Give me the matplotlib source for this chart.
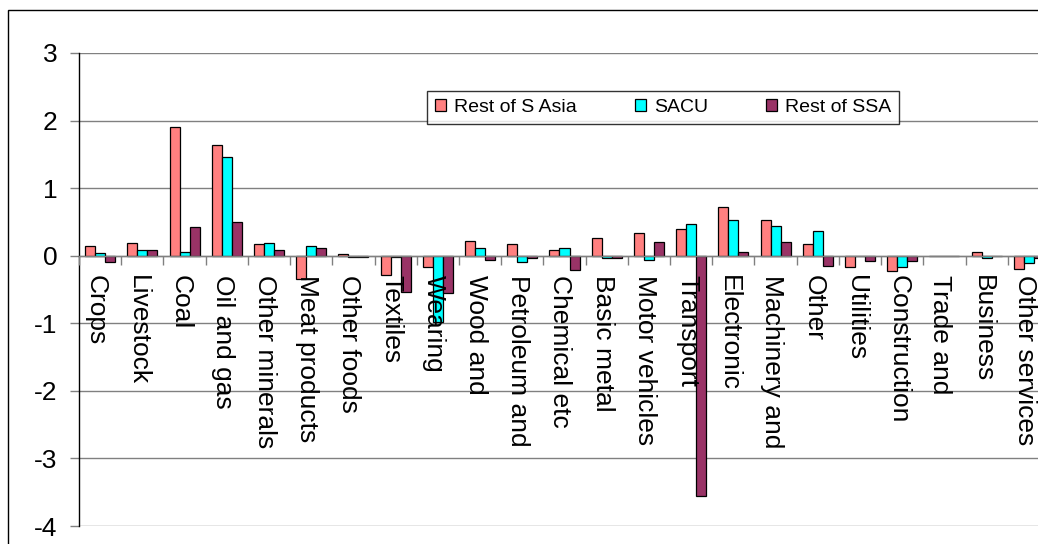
import numpy as np
import matplotlib
matplotlib.use("Agg")
import matplotlib.pyplot as plt
from matplotlib.patches import Rectangle
from matplotlib.transforms import ScaledTranslation

plt.rcParams['font.family'] = ['Liberation Sans', 'DejaVu Sans']

# sectors and the three regional series
sectors = ["Crops", "Livestock", "Coal", "Oil and gas", "Other minerals",
           "Meat products", "Other foods", "Textiles", "Wearing", "Wood and",
           "Petroleum and", "Chemical etc", "Basic metal", "Motor vehicles",
           "Transport", "Electronic", "Machinery and", "Other", "Utilities",
           "Construction", "Trade and", "Business", "Other services"]
rest_s_asia = [0.14, 0.19, 1.90, 1.64, 0.17, -0.34, 0.03, -0.28, -0.17, 0.22,
               0.17, 0.085, 0.26, 0.33, 0.39, 0.72, 0.53, 0.17, -0.17, -0.23,
               -0.01, 0.06, -0.20]
sacu = [0.035, 0.08, 0.05, 1.46, 0.19, 0.14, -0.025, -0.02, -0.98, 0.11,
        -0.09, 0.11, -0.04, -0.06, 0.475, 0.53, 0.445, 0.36, 0.0, -0.17,
        0.0, -0.03, -0.11]
rest_ssa = [-0.09, 0.08, 0.42, 0.50, 0.085, 0.11, -0.025, -0.53, -0.55, -0.06,
            -0.035, -0.21, -0.04, 0.20, -3.55, 0.055, 0.20, -0.145, -0.085,
            -0.085, 0.0, 0.0, -0.03]
series_names = ["Rest of S Asia", "SACU", "Rest of SSA"]
y_ticks = [-4, -3, -2, -1, 0, 1, 2, 3]

colors = ["#FF8080", "#00FFFF", "#993366"]
grey = "#808080"

fig = plt.figure(figsize=(10.38, 5.44), dpi=100, facecolor="white")
ax = fig.add_axes([79 / 1038, 18 / 544, 971 / 1038, 473 / 544])

x = np.arange(len(sectors))
w = 0.237
for k, (vals, name) in enumerate(zip([rest_s_asia, sacu, rest_ssa], series_names)):
    ax.bar(x + (k - 1) * w, vals, width=w, color=colors[k], edgecolor="black",
           linewidth=0.9, label=name, zorder=2)

ax.set_xlim(-0.5, len(sectors) - 0.5)
ax.set_ylim(-4, 3)

# horizontal gridlines sit behind the bars, category labels in front
ax.yaxis.set_zorder(0.5)
ax.xaxis.set_zorder(3)
ax.yaxis.grid(True, color=grey, linewidth=1)
ax.set_yticks(y_ticks)
ax.set_yticklabels([str(v) for v in y_ticks], fontsize=19)
ax.tick_params(axis="y", direction="out", length=6.5, width=1, color=grey, pad=9)

for s in ["top", "right"]:
    ax.spines[s].set_visible(False)
ax.spines["left"].set_color("black")
ax.spines["left"].set_linewidth(1)
ax.spines["bottom"].set_position(("data", 0))
ax.spines["bottom"].set_color(grey)
ax.spines["bottom"].set_linewidth(1)

ax.set_xticks(x)
ax.set_xticklabels(sectors, rotation=-90, va="top", ha="center", fontsize=19)
ax.set_xticks(np.arange(len(sectors) + 1) - 0.5, minor=True)
ax.tick_params(axis="x", which="major", length=0, pad=14)
ax.tick_params(axis="x", which="minor", direction="out", length=6.5, width=1, color=grey)

# nudge rotated labels a little left so the glyphs sit on the category centre
nudge = ScaledTranslation(-4 / 100, 0, fig.dpi_scale_trans)
for lab in ax.get_xticklabels():
    lab.set_transform(lab.get_transform() + nudge)

leg = ax.legend(loc="lower left", bbox_to_anchor=(0.358, 0.85, 0.487, 0.082),
                mode="expand", ncol=3, fontsize=14, frameon=True, fancybox=False,
                handlelength=0.6, handleheight=0.6, handletextpad=0.4,
                columnspacing=2.0, borderpad=0.42, borderaxespad=0)
leg.get_frame().set_edgecolor("black")
leg.get_frame().set_linewidth(1)
leg.set_zorder(4)

# outer chart frame
frame = Rectangle((8 / 1038, -0.2), 1.2, (544 - 10) / 544 + 0.2, transform=fig.transFigure,
                  fill=False, edgecolor="black", linewidth=1, clip_on=False)
fig.patches.append(frame)

fig.savefig("out.png", dpi=100)
